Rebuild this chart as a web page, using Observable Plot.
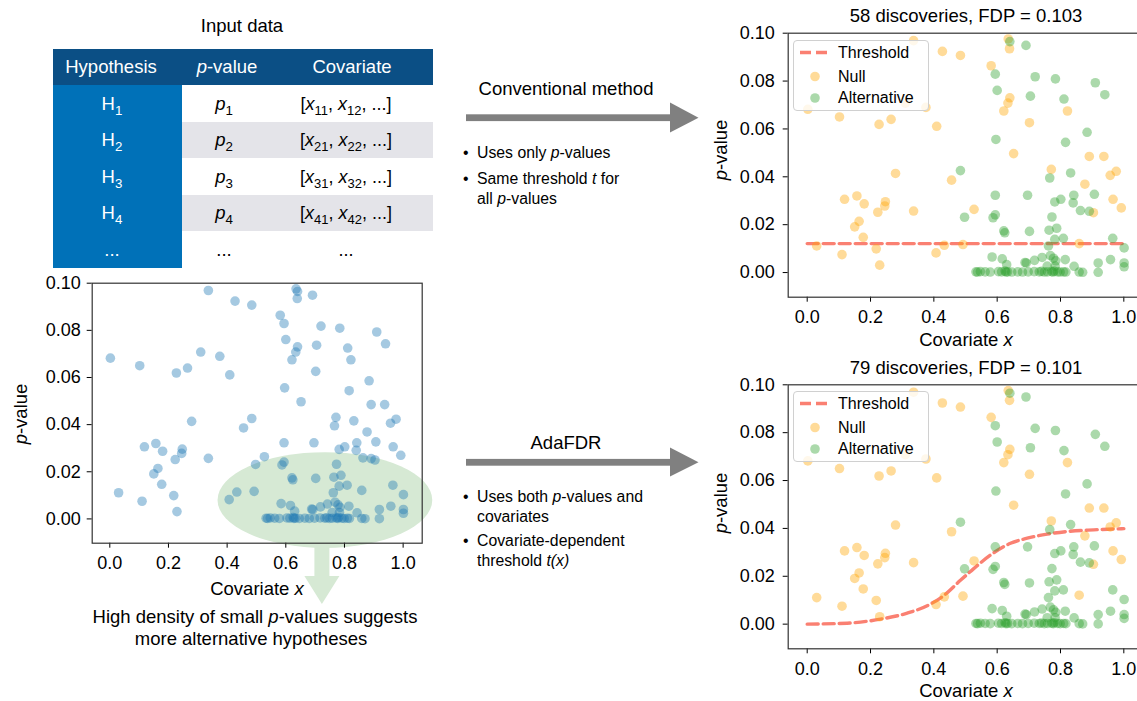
<!DOCTYPE html>
<html><head><meta charset="utf-8">
<script src="https://cdn.jsdelivr.net/npm/d3@7"></script>
<script src="https://cdn.jsdelivr.net/npm/@observablehq/plot@0.6"></script>
<style>
html,body{margin:0;padding:0;background:#fff;}
#root{position:relative;width:1137px;height:701px;overflow:hidden;background:#fff;font-family:"Liberation Sans",Arial,Helvetica,sans-serif;color:#000;}
.abs{position:absolute;white-space:nowrap;line-height:1;}
.c{transform:translate(-50%,-50%);}
.rot{transform:translate(-50%,-50%) rotate(-90deg);}
.sub{font-size:0.72em;position:relative;top:0.35em;}
.legend{position:absolute;background:rgba(255,255,255,0.8);border:1px solid #d0d0d0;border-radius:4px;box-sizing:border-box;}
.cell{position:absolute;box-sizing:border-box;}
</style></head>
<body><div id="root"></div>
<script>
// ---------------- data ----------------
const nullX = [0.336,0.635,0.639,0.427,0.484,0.581,0.640,0.634,0.621,0.702,0.822,0.002,0.102,0.227,0.265,0.409,0.375,0.310,0.652,0.771,0.279,0.456,0.891,0.937,0.976,0.957,0.877,0.966,0.992,0.904,0.118,0.157,0.180,0.247,0.245,0.223,0.336,0.527,0.164,0.150,0.177,0.030,0.110,0.218,0.229,0.407,0.433,0.492,0.859];
const nullP = [0.0969,0.0976,0.0935,0.0924,0.0907,0.0864,0.0730,0.0708,0.0675,0.0626,0.0675,0.0682,0.0650,0.0619,0.0640,0.0611,0.0690,0.0708,0.0497,0.0431,0.0414,0.0386,0.0485,0.0485,0.0423,0.0406,0.0369,0.0306,0.0270,0.0250,0.0306,0.0320,0.0287,0.0296,0.0278,0.0252,0.0257,0.0264,0.0214,0.0191,0.0147,0.0111,0.0075,0.0099,0.0031,0.0082,0.0114,0.0117,0.0121];
const altX = [0.640,0.691,0.594,0.600,0.720,0.784,0.705,0.811,0.910,0.940,0.596,0.816,0.884,0.484,0.766,0.832,0.594,0.696,0.782,0.801,0.842,0.840,0.907,0.863,0.891,0.497,0.594,0.587,0.773,0.621,0.624,0.702,0.764,0.788,0.809,0.782,0.762,0.965,1.001,0.584,0.616,0.630,0.688,0.718,0.742,0.768,0.778,0.785,0.815,0.843,0.919,0.958,1.001,1.001,0.758,0.783,0.692,
  0.533,0.538,0.547,0.562,0.578,0.604,0.614,0.625,0.628,0.633,0.646,0.665,0.680,0.698,0.717,0.733,0.740,0.749,0.759,0.772,0.777,0.780,0.791,0.799,0.810,0.817,0.859,0.870,0.919];
const altP = [0.0965,0.0949,0.0829,0.0761,0.0818,0.0809,0.0737,0.0725,0.0793,0.0743,0.0556,0.0544,0.0586,0.0426,0.0395,0.0416,0.0323,0.0323,0.0295,0.0306,0.0323,0.0291,0.0327,0.0259,0.0256,0.0231,0.0241,0.0229,0.0232,0.0174,0.0166,0.0172,0.0177,0.0185,0.0143,0.0139,0.0111,0.0143,0.0103,0.0065,0.0057,0.0033,0.0042,0.0051,0.0063,0.0071,0.0060,0.0049,0.0054,0.0026,0.0040,0.0054,0.0040,0.0024,0.0027,0.0027,0.0040,
  0.0003,0.0002,0.0004,0.0003,0.0002,0.0004,0.0003,0.0006,0.0002,0.0003,0.0002,0.0003,0.0002,0.0003,0.0004,0.0003,0.0005,0.0002,0.0003,0.0004,0.0002,0.0006,0.0003,0.0002,0.0003,0.0002,0.0002,0.0001,0.0001];
const convThrX = [0, 1];
const convThrP = [0.0121, 0.0121];
const adaThrX = [0.0,0.126,0.232,0.316,0.379,0.432,0.484,0.526,0.579,0.642,0.695,0.758,0.821,0.905,1.0];
const adaThrP = [0.0000,0.0004,0.0021,0.0046,0.0077,0.0120,0.0183,0.0232,0.0289,0.0338,0.0359,0.0376,0.0387,0.0394,0.0399];
const xTicks = [0.0,0.2,0.4,0.6,0.8,1.0];
const yTicks = [0.00,0.02,0.04,0.06,0.08,0.10];
const ellipseCenter = [0.735, 0.0078];
const ellipseRadius = [0.366, 0.0203];
const panelTitles = ["58 discoveries, FDP = 0.103", "79 discoveries, FDP = 0.101"];
const legendLabels = ["Threshold", "Null", "Alternative"];
const tableHeader = ["Hypothesis", "<i>p</i>-value", "Covariate"];
const tableHyp = ["H<span class='sub'>1</span>","H<span class='sub'>2</span>","H<span class='sub'>3</span>","H<span class='sub'>4</span>","..."];
const tableP = ["<i>p</i><span class='sub'>1</span>","<i>p</i><span class='sub'>2</span>","<i>p</i><span class='sub'>3</span>","<i>p</i><span class='sub'>4</span>","..."];
const tableCov = ["[<i>x</i><span class='sub'>11</span>, <i>x</i><span class='sub'>12</span>, ...]","[<i>x</i><span class='sub'>21</span>, <i>x</i><span class='sub'>22</span>, ...]","[<i>x</i><span class='sub'>31</span>, <i>x</i><span class='sub'>32</span>, ...]","[<i>x</i><span class='sub'>41</span>, <i>x</i><span class='sub'>42</span>, ...]","..."];

const nullData = nullX.map((x, i) => ({x, p: nullP[i]}));
const altData = altX.map((x, i) => ({x, p: altP[i]}));
const allData = nullData.concat(altData);
const convThr = convThrX.map((x, i) => ({x, p: convThrP[i]}));
const adaThr = adaThrX.map((x, i) => ({x, p: adaThrP[i]}));

const root = document.getElementById("root");
const FONT = "'Liberation Sans', Arial, Helvetica, sans-serif";
const SALMON = "#fa8072", ORANGE = "#ffa500", GREEN = "#2ca02c", BLUE = "#1f77b4";

function html(str, left, top, cls, style) {
  const d = document.createElement("div");
  d.className = "abs " + (cls || "");
  d.style.left = left + "px"; d.style.top = top + "px";
  if (style) d.style.cssText += style;
  d.innerHTML = str;
  root.appendChild(d);
  return d;
}

function scatter({left, top, width, height, mt, mr, mb, ml, ypad, marks}) {
  const svg = Plot.plot({
    width, height, marginTop: mt, marginRight: mr, marginBottom: mb, marginLeft: ml,
    x: {domain: [-0.06, 1.065]},
    y: {domain: [-0.0103, 0.1]},
    style: {fontSize: "18px", fontFamily: FONT, color: "#000", background: "transparent", overflow: "visible"},
    marks: [
      ...marks,
      Plot.axisX({ticks: xTicks, tickFormat: d3.format(".1f"), tickSize: 5, tickPadding: 8, label: null}),
      Plot.axisY({ticks: yTicks, tickFormat: d3.format(".2f"), tickSize: 5, tickPadding: ypad, label: null}),
      Plot.frame({stroke: "#333", strokeWidth: 1.2})
    ]
  });
  svg.style.position = "absolute";
  svg.style.left = left + "px";
  svg.style.top = top + "px";
  svg.style.maxWidth = "none";
  root.appendChild(svg);
}

const dotOpts = (fill) => ({x: "x", y: "p", r: 4.8, fill, fillOpacity: 0.4, stroke: "none"});

// ---------------- left scatter ----------------
const ellipseMark = (index, scales) => {
  const g = d3.create("svg:g");
  const cx = scales.x(ellipseCenter[0]), cy = scales.y(ellipseCenter[1]);
  const rx = scales.x(ellipseCenter[0] + ellipseRadius[0]) - cx;
  const ry = cy - scales.y(ellipseCenter[1] + ellipseRadius[1]);
  g.append("ellipse").attr("cx", cx).attr("cy", cy).attr("rx", rx).attr("ry", ry).attr("fill", "#d6e9d4");
  const ax = cx - 3, by = cy + ry;
  g.append("path")
    .attr("d", `M${ax-7.5},${by-4} L${ax+7.5},${by-4} L${ax+7.5},${by+28} L${ax+17.5},${by+28} L${ax},${by+56} L${ax-17.5},${by+28} L${ax-7.5},${by+28} Z`)
    .attr("fill", "#d6e9d4");
  return g.node();
};
scatter({left: 0, top: 270, width: 440, height: 345, mt: 12.7, mr: 18.3, mb: 72.3, ml: 91.7, ypad: 6.5,
  marks: [ellipseMark, Plot.dot(allData, dotOpts(BLUE))]});

// ---------------- right scatters ----------------
scatter({left: 700, top: 20, width: 460, height: 330, mt: 12.7, mr: 16.1, mb: 53.3, ml: 87.7, ypad: 8.5,
  marks: [
    Plot.line(convThr, {x: "x", y: "p", stroke: SALMON, strokeWidth: 3.4, strokeDasharray: "11,5"}),
    Plot.dot(nullData, dotOpts(ORANGE)),
    Plot.dot(altData, dotOpts(GREEN))
  ]});
scatter({left: 700, top: 372, width: 460, height: 330, mt: 12.3, mr: 16.1, mb: 53.7, ml: 87.7, ypad: 8.5,
  marks: [
    Plot.line(adaThr, {x: "x", y: "p", stroke: SALMON, strokeWidth: 3.4, strokeDasharray: "11,5", curve: "monotone-x"}),
    Plot.dot(nullData, dotOpts(ORANGE)),
    Plot.dot(altData, dotOpts(GREEN))
  ]});

// axis labels
html("Covariate <i>x</i>", 257, 589, "c", "font-size:18.5px");
html("<i>p</i>-value", 21, 414, "rot", "font-size:18.5px");
html("Covariate <i>x</i>", 966, 340, "c", "font-size:18.5px");
html("<i>p</i>-value", 721, 150, "rot", "font-size:18.5px");
html("Covariate <i>x</i>", 966, 691, "c", "font-size:18.5px");
html("<i>p</i>-value", 721, 503, "rot", "font-size:18.5px");

// titles
html(panelTitles[0], 966, 16, "c", "font-size:18.5px");
html(panelTitles[1], 966, 368, "c", "font-size:18.5px");

// legends
function legend(top) {
  const box = document.createElement("div");
  box.className = "legend";
  box.style.left = "793px"; box.style.top = top + "px";
  box.style.width = "136px"; box.style.height = "71px";
  box.innerHTML = `<svg width="136" height="71" style="position:absolute;left:-1px;top:-1px">
    <line x1="7" x2="38" y1="12.5" y2="12.5" stroke="${SALMON}" stroke-width="3.4" stroke-dasharray="11,5"/>
    <circle cx="22" cy="36.5" r="4.8" fill="${ORANGE}" fill-opacity="0.4"/>
    <circle cx="22" cy="58" r="4.8" fill="${GREEN}" fill-opacity="0.4"/></svg>`;
  root.appendChild(box);
  [12.5, 36.5, 58].forEach((y, i) => {
    html(legendLabels[i], 838, top + y, "", "font-size:16px;transform:translateY(-50%)");
  });
}
legend(40);
legend(391);

// ---------------- input table ----------------
html("Input data", 242, 26, "c", "font-size:18.5px");
function rect(l, t, w, h, color) {
  const d = document.createElement("div");
  d.className = "cell";
  d.style.cssText += `left:${l}px;top:${t}px;width:${w}px;height:${h}px;background:${color}`;
  root.appendChild(d);
}
rect(53, 49, 380, 36, "#0b4f85");
rect(53, 85, 129, 183, "#0071b8");
rect(182, 122, 251, 36, "#e4e4e9");
rect(182, 195, 251, 36, "#e4e4e9");
const headX = [111, 227, 352];
tableHeader.forEach((t, i) => html(t, headX[i], 67, "c", "font-size:18.5px;color:#fff"));
const rowY = [104, 140, 177, 213, 250];
rowY.forEach((y, i) => {
  html(tableHyp[i], 112, y, "c", "font-size:18.5px;color:#fff");
  html(tableP[i], 224, y, "c", "font-size:18.5px");
  html(tableCov[i], 346, y, "c", "font-size:18px");
});

// ---------------- arrows and method text ----------------
const arr = document.createElementNS("http://www.w3.org/2000/svg", "svg");
arr.setAttribute("width", "1137"); arr.setAttribute("height", "701");
arr.style.cssText = "position:absolute;left:0;top:0;pointer-events:none";
arr.innerHTML = `
  <rect x="466" y="114.3" width="206" height="6.8" fill="#808080"/>
  <polygon points="670,102.5 698.5,117.7 670,132.5" fill="#808080"/>
  <rect x="466" y="458.9" width="206" height="6.8" fill="#808080"/>
  <polygon points="670,447.5 698.5,462.3 670,476.5" fill="#808080"/>`;
root.appendChild(arr);

html("Conventional method", 566, 89, "c", "font-size:18.5px");
html("AdaFDR", 566, 443, "c", "font-size:18.5px");
const bullets = [
  ["•", 463, 153], ["Uses only <i>p</i>-values", 477, 153],
  ["•", 463, 179], ["Same threshold <i>t</i> for", 477, 179], ["all <i>p</i>-values", 477, 198.5],
  ["•", 463, 497], ["Uses both <i>p</i>-values and", 477, 497], ["covariates", 477, 517],
  ["•", 463, 541], ["Covariate-dependent", 477, 541], ["threshold <i>t(x)</i>", 477, 560.5]
];
bullets.forEach(([t, x, y]) => html(t, x, y, "", "font-size:15.8px;transform:translateY(-50%)"));

html("High density of small <i>p</i>-values suggests", 255, 617, "c", "font-size:18.5px");
html("more alternative hypotheses", 251, 638.5, "c", "font-size:18.5px");
</script>
</body></html>
